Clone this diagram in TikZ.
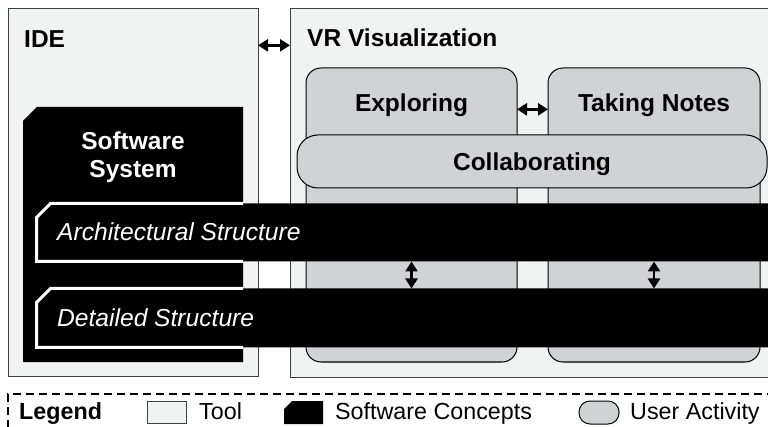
\documentclass[tikz,border=0pt]{standalone}
\usepackage{fontspec}
\setmainfont{Liberation Sans}
\usetikzlibrary{arrows.meta}
\definecolor{toolfill}{RGB}{241,242,242}
\definecolor{toolline}{RGB}{64,64,64}
\definecolor{activityfill}{RGB}{209,210,212}
\tikzset{
    tool-box/.style = {draw=toolline, fill=toolfill, line width=1pt, rectangle, inner sep=0pt, outer sep=0pt, anchor=north west},
    concept-box/.style = {rectangle, inner sep=0pt, outer sep=0pt, path picture={
        \fill[black] (path picture bounding box.south west) -- ([yshift=-#1]path picture bounding box.north west)
            -- ([xshift=#1]path picture bounding box.north west) -- (path picture bounding box.north east)
            -- (path picture bounding box.south east) -- cycle;}},
    concept-box/.default = 14pt,
    activity-box/.style = {draw=black, fill=activityfill, line width=1pt, rectangle, rounded corners=15pt, inner sep=0pt, outer sep=0pt, anchor=north west},
    white-edge/.style = {draw=white, line width=3pt},
    box-title/.style = {font=\bfseries\fontsize{24.5}{28.5}\selectfont, inner sep=0pt, anchor=base west},
    concept-title/.style = {text=white, font=\bfseries\fontsize{24.5}{28}\selectfont, align=center, inner sep=0pt},
    structure-title/.style = {text=white, font=\itshape\fontsize{24.6}{28.5}\selectfont, inner sep=0pt, anchor=base west},
    legend-text/.style = {font=\fontsize{23.3}{27}\selectfont, inner sep=0pt, anchor=base west},
    link/.style = {{Triangle[width=12pt,length=10pt]}-{Triangle[width=12pt,length=10pt]}, line width=2.5pt},
}
\begin{document}
\begin{tikzpicture}[x=1pt, y=-1pt]
\useasboundingbox (0,0) rectangle (768,427);

% tools
\node [tool-box, minimum width=250pt, minimum height=367pt] (ide) at (8,9) {};
\node [tool-box, minimum width=485pt, minimum height=368pt] (vr) at (290,9) {};
\node [box-title] (ide-title) at (24,48) {IDE};
\node [box-title] (vr-title) at (307,47) {VR Visualization};

% software system
\node [concept-box, minimum width=220pt, minimum height=255pt] (sw) at (133,234.5) {};
\node [concept-title] (sw-title) at (133,157) {Software\\System};

% user activities
\node [activity-box, minimum width=211pt, minimum height=294pt] (explore) at (306,68) {};
\node [activity-box, minimum width=212pt, minimum height=294pt] (notes) at (548,68) {};
\node [box-title, anchor=base] (explore-title) at (411.5,112) {Exploring};
\node [box-title, anchor=base] (notes-title) at (654,112) {Taking Notes};
\node [activity-box, rounded corners=21pt, minimum width=470pt, minimum height=53pt] (collab) at (297,135) {};
\node [box-title, anchor=base] (collab-title) at (532,171) {Collaborating};

% structures
\node [concept-box, minimum width=744pt, minimum height=58pt] (arch) at (408.5,232.5) {};
\node [concept-box, minimum width=744pt, minimum height=59pt] (detail) at (408.5,318) {};
\coordinate (arch-corner) at (arch.north west);
\coordinate (detail-corner) at (detail.north west);
\draw [white-edge] (sw.east |- arch.south) -- (arch.south west) -- ([yshift=-14pt]arch-corner) -- ([xshift=14pt]arch-corner) -- (sw.east |- arch.north);
\draw [white-edge] (sw.east |- detail.south) -- (detail.south west) -- ([yshift=-14pt]detail-corner) -- ([xshift=14pt]detail-corner) -- (sw.east |- detail.north);
\node [structure-title] (arch-title) at (57,241) {Architectural Structure};
\node [structure-title] (detail-title) at (57,327) {Detailed Structure};

% links
\draw [link] (ide.east |- ide-title.mid) -- (vr.west |- ide-title.mid);
\draw [link] (explore.east |- explore-title.mid) -- (notes.west |- explore-title.mid);
\draw [link] (arch.south -| explore.center) -- (detail.north -| explore.center);
\draw [link] (arch.south -| notes.center) -- (detail.north -| notes.center);

% legend
\draw [line width=1.5pt, dash pattern=on 8pt off 5pt] (775,394) -| (8,430);
\node [legend-text, font=\bfseries\fontsize{23.3}{27}\selectfont] (legend-title) at (19,419) {Legend};
\node [tool-box, minimum width=39pt, minimum height=22pt] (legend-tool) at (147,401) {};
\node [legend-text] (legend-tool-text) at (199,419) {Tool};
\node [concept-box=8pt, minimum width=39pt, minimum height=23pt] (legend-concept) at (303.5,412.5) {};
\node [legend-text] (legend-concept-text) at (335,419) {Software Concepts};
\node [activity-box, rounded corners=11pt, minimum width=40pt, minimum height=23pt] (legend-activity) at (579,401) {};
\node [legend-text] (legend-activity-text) at (630,419) {User Activity};
\end{tikzpicture}
\end{document}
